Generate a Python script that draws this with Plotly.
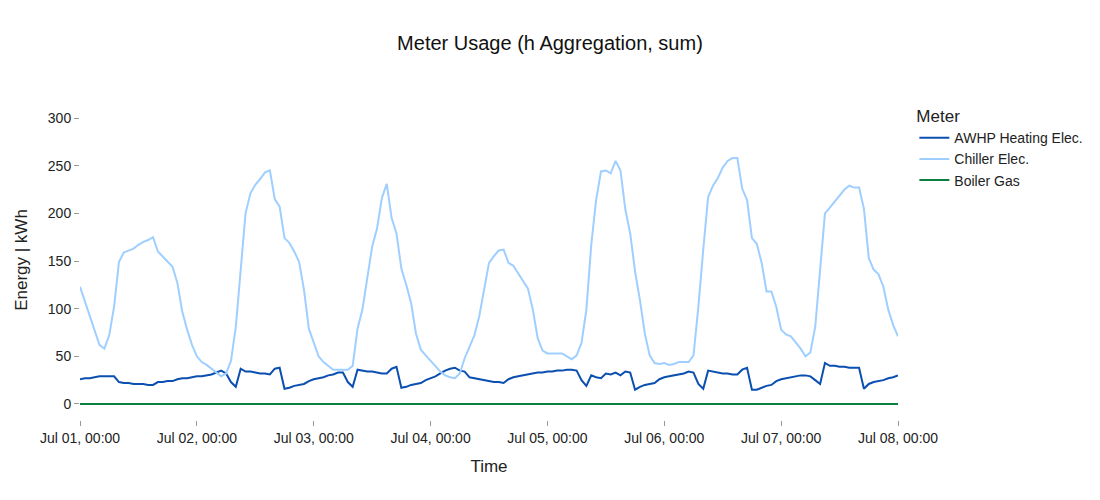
import pandas as pd
import plotly.graph_objects as go

# hourly timestamps, Jul 01 00:00 .. Jul 08 00:00
time_index = pd.date_range("2023-07-01 00:00", "2023-07-08 00:00", freq="h")

awhp_heating_elec = [
    26, 27, 27, 28, 29, 29, 29, 29, 23, 22, 22, 21, 21, 21, 20, 20, 23, 23, 24, 24,
    26, 27, 27, 28, 29, 29, 30, 31, 33, 35, 32, 23, 18, 37, 34, 34, 33, 32, 32, 31,
    37, 38, 16, 17, 19, 20, 21, 24, 26, 27, 28, 30, 31, 33, 33, 23, 18, 36, 35, 34,
    34, 33, 32, 32, 37, 39, 17, 18, 20, 21, 22, 25, 27, 29, 32, 35, 37, 38, 35, 34,
    28, 27, 26, 25, 24, 23, 23, 22, 26, 28, 29, 30, 31, 32, 33, 33, 34, 34, 35, 35,
    36, 36, 35, 25, 19, 30, 28, 27, 32, 31, 33, 30, 34, 33, 15, 18, 20, 21, 22, 26,
    28, 29, 30, 31, 32, 34, 33, 21, 16, 35, 34, 33, 32, 32, 31, 31, 36, 38, 15, 15,
    17, 19, 20, 24, 26, 27, 28, 29, 30, 30, 29, 25, 21, 43, 40, 40, 39, 39, 38, 38,
    38, 16, 21, 23, 24, 25, 27, 28, 30,
]

chiller_elec = [
    123, 108, 93, 77, 62, 58, 72, 102, 149, 159, 161, 163, 167, 170, 172, 175, 160, 155, 150, 144,
    127, 97, 78, 62, 50, 44, 41, 37, 33, 29, 32, 45, 81, 137, 200, 221, 230, 236, 243, 245,
    215, 207, 174, 169, 160, 149, 120, 79, 64, 50, 44, 40, 36, 36, 36, 36, 40, 79, 99, 134,
    165, 184, 216, 231, 195, 179, 142, 125, 106, 74, 57, 51, 45, 40, 34, 30, 28, 27, 32, 48,
    60, 72, 92, 120, 148, 155, 161, 162, 148, 145, 137, 128, 121, 99, 69, 56, 53, 53, 53, 53,
    50, 47, 51, 64, 99, 167, 214, 244, 245, 242, 255, 245, 204, 179, 139, 109, 74, 51, 43, 42,
    43, 41, 42, 44, 44, 44, 51, 102, 162, 217, 229, 237, 248, 255, 258, 258, 226, 214, 174, 168,
    148, 118, 118, 102, 78, 73, 71, 65, 58, 50, 54, 81, 137, 200, 206, 212, 218, 225, 229, 227,
    227, 205, 153, 141, 136, 123, 99, 83, 71,
]

boiler_gas = [0] * len(time_index)

meter_names = ["AWHP Heating Elec.", "Chiller Elec.", "Boiler Gas"]
meter_colors = ["#0b4fb0", "#9fcfff", "#0a7f3f"]
meter_values = [awhp_heating_elec, chiller_elec, boiler_gas]

fig = go.Figure()
for name, color, values in zip(meter_names, meter_colors, meter_values):
    fig.add_trace(
        go.Scatter(
            x=time_index,
            y=values,
            mode="lines",
            name=name,
            line=dict(color=color, width=2),
        )
    )

# page adds an 8px body margin, so margins are pulled in by 8px
fig.update_layout(
    template="plotly_white",
    width=1100,
    height=500,
    margin=dict(l=72, r=210, t=92, b=88),
    font=dict(family="Liberation Sans, Arial, sans-serif", size=14, color="#222"),
    title=dict(
        text="Meter Usage (h Aggregation, sum)",
        x=0.4927,
        xanchor="center",
        y=0.93,
        yanchor="middle",
        font=dict(size=20, color="#111"),
    ),
    legend=dict(
        title=dict(text="Meter", font=dict(size=17)),
        x=1.02,
        y=1.0,
        xanchor="left",
        yanchor="top",
        font=dict(size=14),
    ),
)

fig.update_xaxes(
    title=dict(text="Time", font=dict(size=17)),
    showgrid=False,
    zeroline=False,
    showline=False,
    ticks="outside",
    ticklen=5,
    tickcolor="#999",
    tickformat="%b %d, %H:%M",
    dtick=86400000,
    range=[time_index[0], time_index[-1]],
)

fig.update_yaxes(
    title=dict(text="Energy | kWh", font=dict(size=17)),
    showgrid=False,
    zeroline=False,
    showline=False,
    ticks="outside",
    ticklen=5,
    tickcolor="#999",
    dtick=50,
    range=[-16.8, 318.9],
)

fig.write_html("out.html")
